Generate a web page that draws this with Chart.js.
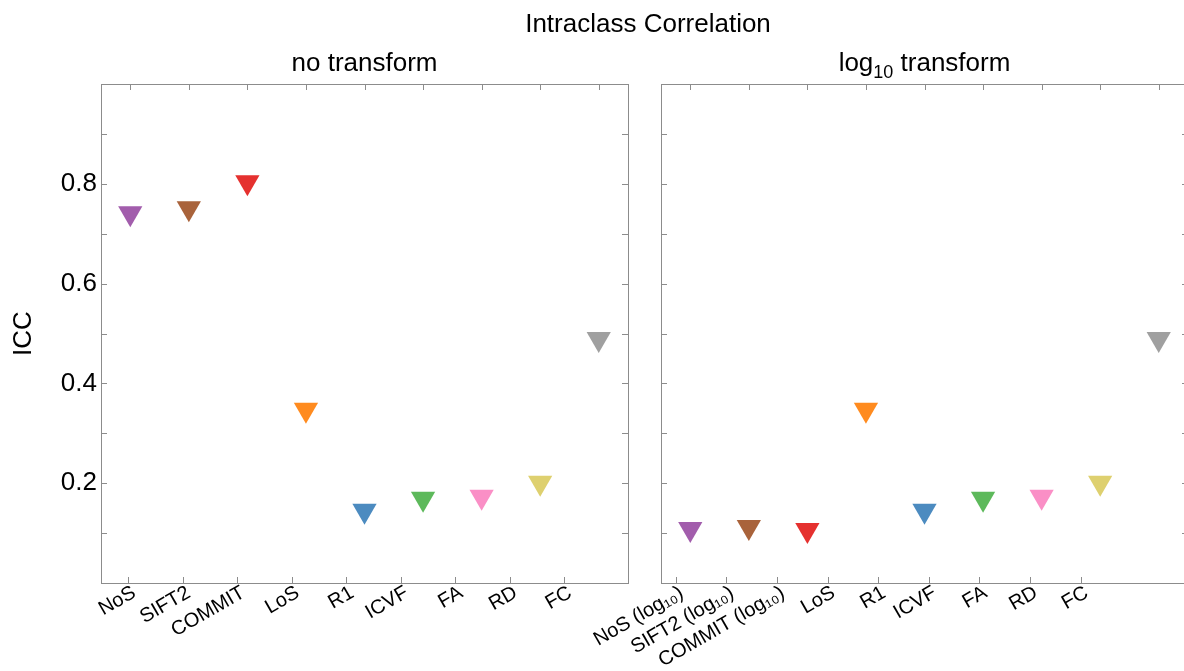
<!DOCTYPE html>
<html>
<head>
<meta charset="utf-8">
<script src="https://cdn.jsdelivr.net/npm/chart.js@4"></script>
<style>
  html, body { margin: 0; padding: 0; background: #fff; overflow: hidden; width: 1184px; height: 671px; }
  canvas { position: absolute; left: 0; top: 0; }
</style>
</head>
<body>
<canvas id="left" width="1250" height="671"></canvas>
<canvas id="right" width="1250" height="671"></canvas>
<script>
// ---- data ----
const categoriesNoTransform = ['NoS', 'SIFT2', 'COMMIT', 'LoS', 'R1', 'ICVF', 'FA', 'RD', 'FC'];
const categoriesLog10 = ['NoS (log\u2081\u2080)', 'SIFT2 (log\u2081\u2080)', 'COMMIT (log\u2081\u2080)', 'LoS', 'R1', 'ICVF', 'FA', 'RD', 'FC'];
const iccNoTransform = [0.741, 0.751, 0.803, 0.347, 0.145, 0.169, 0.173, 0.201, 0.489];
const iccLog10 = [0.108, 0.112, 0.106, 0.347, 0.145, 0.169, 0.173, 0.201, 0.489];
const markerColors = ['#a25dac', '#a9633b', '#e5312f', '#ff8b1f', '#4c8bc0', '#5db95b', '#fa8fc6', '#ded06f', '#a0a0a0'];
const yLabelValues = [0.2, 0.4, 0.6, 0.8];

const FONT = "'Liberation Sans', Arial, Helvetica, sans-serif";
const FRAME = '#8c8c8c';

// draws text parts [{t, sub}] centered at cx with baseline y
function drawRich(ctx, parts, cx, y, size) {
  const subSize = Math.round(size * 0.68);
  let total = 0;
  parts.forEach(p => {
    ctx.font = (p.sub ? subSize : size) + 'px ' + FONT;
    p.w = ctx.measureText(p.t).width;
    total += p.w;
  });
  let x = cx - total / 2;
  ctx.textAlign = 'left';
  parts.forEach(p => {
    ctx.font = (p.sub ? subSize : size) + 'px ' + FONT;
    ctx.fillText(p.t, x, y + (p.sub ? size * 0.25 : 0));
    x += p.w;
  });
}

function framePlugin(opts) {
  return {
    id: 'frameTicks',
    afterDraw(chart) {
      const ctx = chart.ctx;
      const a = chart.chartArea;
      const xs = chart.scales.x, ys = chart.scales.y;
      ctx.save();
      ctx.strokeStyle = FRAME;
      ctx.lineWidth = 1;
      ctx.strokeRect(a.left + 0.5, a.top + 0.5, a.right - a.left, a.bottom - a.top);
      const TL = 6;
      ctx.beginPath();
      ys.ticks.forEach(t => {
        const p = Math.round(ys.getPixelForValue(t.value)) + 0.5;
        ctx.moveTo(a.left, p); ctx.lineTo(a.left + TL, p);
        ctx.moveTo(a.right, p); ctx.lineTo(a.right - TL, p);
      });
      xs.ticks.forEach(t => {
        const p = Math.round(xs.getPixelForValue(t.value)) + 0.5;
        ctx.moveTo(p, a.bottom); ctx.lineTo(p, a.bottom - TL);
      });
      opts.cats.forEach((c, i) => {
        const p = Math.round(xs.getPixelForValue(i + 1)) + 0.5;
        ctx.moveTo(p, a.top); ctx.lineTo(p, a.top + TL);
      });
      ctx.stroke();
      ctx.fillStyle = '#000';
      ctx.textBaseline = 'alphabetic';
      const cx = (a.left + a.right) / 2;
      drawRich(ctx, opts.subtitle, cx, 71, 26);
      if (opts.mainTitle) {
        drawRich(ctx, [{ t: opts.mainTitle }], 648, 32, 26);
      }
      ctx.restore();
    }
  };
}

function makeChart(id, cats, values, o) {
  const points = values.map((v, i) => ({ x: i + 1, y: v }));
  return new Chart(document.getElementById(id), {
    type: 'scatter',
    data: {
      datasets: [{
        data: points,
        pointStyle: 'triangle',
        rotation: 180,
        radius: 14,
        hoverRadius: 14,
        borderWidth: 0,
        backgroundColor: markerColors,
        pointBackgroundColor: markerColors,
        pointBorderWidth: 0
      }]
    },
    options: {
      responsive: false,
      animation: false,
      devicePixelRatio: 1,
      layout: { padding: { top: 84, bottom: 0, left: 0, right: o.padRight } },
      plugins: { legend: { display: false }, tooltip: { enabled: false }, title: { display: false } },
      scales: {
        x: {
          type: 'linear',
          min: 0.5, max: 9.5,
          grid: { display: false, drawTicks: false },
          border: { display: false },
          afterBuildTicks(scale) {
            scale.ticks = cats.map((c, i) => ({ value: o.tickStart + o.tickStep * i }));
          },
          afterFit(scale) {
            scale.height = 88;
            scale.paddingLeft = 0;
            scale.paddingRight = 0;
          },
          ticks: {
            autoSkip: false,
            minRotation: 30, maxRotation: 30,
            padding: -2,
            labelOffset: 6,
            color: '#000',
            font: { family: FONT, size: 20 },
            callback(value, index) { return cats[index]; }
          }
        },
        y: {
          min: 0, max: 1,
          grid: { display: false, drawTicks: false },
          border: { display: false },
          afterFit(scale) {
            scale.width = o.yWidth;
            scale.paddingTop = 0;
            scale.paddingBottom = 0;
          },
          title: {
            display: o.showY,
            text: 'ICC',
            color: '#000',
            font: { family: FONT, size: 26 },
            padding: { top: 8, bottom: 0 }
          },
          ticks: {
            display: o.showY,
            stepSize: 0.1,
            padding: 4,
            color: '#000',
            font: { family: FONT, size: 26 },
            callback(value) {
              const r = Math.round(value * 10) / 10;
              return yLabelValues.some(v => Math.abs(v - r) < 1e-9) ? r.toFixed(1) : '';
            }
          }
        }
      }
    },
    plugins: [framePlugin({ cats, subtitle: o.subtitle, mainTitle: o.mainTitle })]
  });
}

makeChart('left', categoriesNoTransform, iccNoTransform, {
  padRight: 622, yWidth: 101, showY: true,
  tickStart: 0.966, tickStep: 0.9306,
  subtitle: [{ t: 'no transform' }], mainTitle: 'Intraclass Correlation'
});
makeChart('right', categoriesLog10, iccLog10, {
  padRight: 62, yWidth: 661, showY: false,
  tickStart: 0.751, tickStep: 0.8645,
  subtitle: [{ t: 'log' }, { t: '10', sub: true }, { t: ' transform' }]
});
</script>
</body>
</html>
